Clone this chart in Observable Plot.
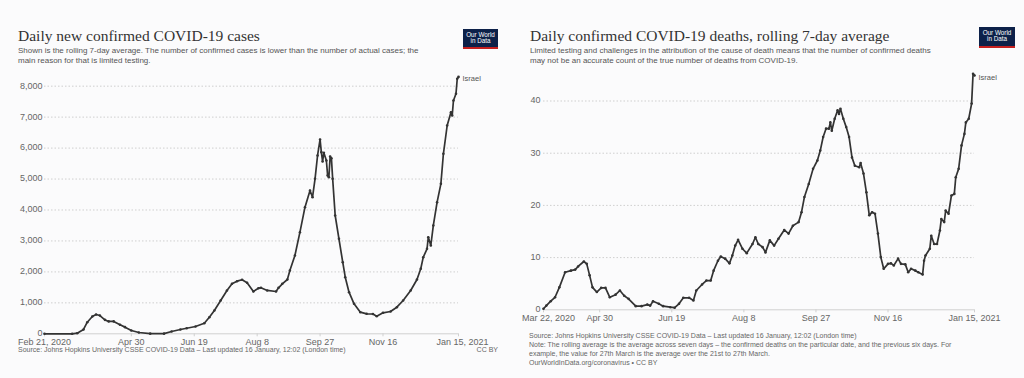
<!DOCTYPE html>
<html><head><meta charset="utf-8">
<script src="https://cdn.jsdelivr.net/npm/d3@7"></script>
<script src="https://cdn.jsdelivr.net/npm/@observablehq/plot@0.6"></script>
<style>
body{margin:0;background:#fbfbfc;}
#wrap{position:relative;width:1024px;height:378px;overflow:hidden;font-family:"Liberation Sans",Arial,sans-serif;background:#fbfbfc;}
.panel{position:absolute;top:0;width:512px;height:378px;}
.panel svg{position:absolute;left:0;top:0;}
.title{position:absolute;font-family:"Liberation Serif","Times New Roman",serif;font-size:15.5px;color:#333;white-space:nowrap;line-height:16px;}
.sub{position:absolute;font-size:8px;color:#555;line-height:10.5px;white-space:nowrap;}
.logo{position:absolute;background:#0d2149;color:#fff;font-size:6.3px;line-height:6.8px;text-align:center;border-bottom:2px solid #c5201f;box-sizing:border-box;padding-top:2.5px;}
.foot{position:absolute;font-size:7px;color:#666;line-height:9px;white-space:nowrap;}
</style></head>
<body>
<div id="wrap">
  <div class="panel" id="left" style="left:0">
    <div class="title" style="left:18px;top:28px">Daily new confirmed COVID-19 cases</div>
    <div class="sub" style="left:18px;top:45.5px">Shown is the rolling 7-day average. The number of confirmed cases is lower than the number of actual cases; the<br>main reason for that is limited testing.</div>
    <div class="logo" style="left:463px;top:29px;width:35px;height:20px">Our World<br>in Data</div>
    <div class="foot" style="left:18px;top:345px">Source: Johns Hopkins University CSSE COVID-19 Data – Last updated 16 January, 12:02 (London time)</div>
    <div class="foot" style="right:14px;top:345px">CC BY</div>
  </div>
  <div class="panel" id="right" style="left:512px">
    <div class="title" style="left:18px;top:28px">Daily confirmed COVID-19 deaths, rolling 7-day average</div>
    <div class="sub" style="left:18px;top:45.5px">Limited testing and challenges in the attribution of the cause of death means that the number of confirmed deaths<br>may not be an accurate count of the true number of deaths from COVID-19.</div>
    <div class="logo" style="left:467px;top:27px;width:36px;height:21px">Our World<br>in Data</div>
    <div class="foot" style="left:17px;top:330.5px">Source: Johns Hopkins University CSSE COVID-19 Data – Last updated 16 January, 12:02 (London time)<br>Note: The rolling average is the average across seven days – the confirmed deaths on the particular date, and the previous six days. For<br>example, the value for 27th March is the average over the 21st to 27th March.<br>OurWorldInData.org/coronavirus • CC BY</div>
  </div>
</div>
<script>
const seriesName = "Israel";

const caseDates = ["2020-02-21","2020-03-14","2020-03-18","2020-03-23","2020-03-26","2020-03-30","2020-04-02","2020-04-05","2020-04-09","2020-04-12","2020-04-16","2020-04-21","2020-04-25","2020-04-30","2020-05-06","2020-05-15","2020-05-26","2020-06-01","2020-06-08","2020-06-13","2020-06-20","2020-06-27","2020-07-01","2020-07-05","2020-07-10","2020-07-15","2020-07-19","2020-07-23","2020-07-27","2020-07-31","2020-08-05","2020-08-09","2020-08-11","2020-08-16","2020-08-23","2020-08-25","2020-08-28","2020-09-01","2020-09-03","2020-09-07","2020-09-11","2020-09-15","2020-09-19","2020-09-21","2020-09-23","2020-09-25","2020-09-27","2020-09-28","2020-09-29","2020-09-30","2020-10-02","2020-10-03","2020-10-04","2020-10-05","2020-10-06","2020-10-07","2020-10-09","2020-10-12","2020-10-15","2020-10-17","2020-10-20","2020-10-24","2020-10-29","2020-11-03","2020-11-08","2020-11-11","2020-11-16","2020-11-22","2020-11-27","2020-12-02","2020-12-08","2020-12-13","2020-12-16","2020-12-18","2020-12-21","2020-12-22","2020-12-24","2020-12-26","2020-12-29","2021-01-01","2021-01-03","2021-01-06","2021-01-09","2021-01-10","2021-01-11","2021-01-13","2021-01-14","2021-01-15"];
const caseValues = [0,0,20,140,375,560,623,590,450,400,400,290,215,107,42,5,5,75,140,180,235,343,537,753,1076,1400,1615,1700,1745,1650,1367,1473,1486,1400,1367,1486,1615,1754,2045,2530,3283,4090,4630,4414,5008,5761,6278,5868,5567,5848,5600,5115,5060,5729,5674,5008,3822,3070,2314,1829,1344,969,698,646,640,569,678,720,860,1076,1399,1754,2100,2475,2746,3121,2853,3500,4252,4846,5816,6730,7160,7053,7538,7754,8239,8300];

const deathDates = ["2020-03-22","2020-03-24","2020-03-27","2020-03-30","2020-04-02","2020-04-06","2020-04-10","2020-04-13","2020-04-15","2020-04-19","2020-04-21","2020-04-23","2020-04-25","2020-04-28","2020-05-01","2020-05-04","2020-05-07","2020-05-11","2020-05-14","2020-05-17","2020-05-20","2020-05-25","2020-05-29","2020-06-02","2020-06-04","2020-06-06","2020-06-10","2020-06-13","2020-06-18","2020-06-21","2020-06-24","2020-06-27","2020-07-01","2020-07-04","2020-07-06","2020-07-10","2020-07-13","2020-07-16","2020-07-18","2020-07-21","2020-07-23","2020-07-26","2020-07-29","2020-07-31","2020-08-02","2020-08-04","2020-08-07","2020-08-10","2020-08-14","2020-08-16","2020-08-18","2020-08-21","2020-08-23","2020-08-26","2020-08-29","2020-09-01","2020-09-05","2020-09-08","2020-09-11","2020-09-15","2020-09-17","2020-09-19","2020-09-22","2020-09-25","2020-09-28","2020-09-30","2020-10-02","2020-10-04","2020-10-06","2020-10-07","2020-10-08","2020-10-10","2020-10-12","2020-10-13","2020-10-14","2020-10-16","2020-10-18","2020-10-20","2020-10-22","2020-10-24","2020-10-27","2020-10-28","2020-10-30","2020-11-01","2020-11-03","2020-11-05","2020-11-07","2020-11-09","2020-11-11","2020-11-13","2020-11-16","2020-11-18","2020-11-20","2020-11-23","2020-11-25","2020-11-28","2020-11-30","2020-12-02","2020-12-05","2020-12-07","2020-12-10","2020-12-11","2020-12-12","2020-12-15","2020-12-16","2020-12-18","2020-12-20","2020-12-22","2020-12-23","2020-12-25","2020-12-26","2020-12-28","2020-12-30","2021-01-01","2021-01-02","2021-01-04","2021-01-06","2021-01-08","2021-01-09","2021-01-11","2021-01-13","2021-01-14","2021-01-15"];
const deathValues = [0.2,0.8,1.65,2.4,4.3,7.2,7.5,7.7,8.3,9.25,8.8,6.6,4.3,3.4,4.2,4.2,2.4,2.9,3.7,2.7,2.1,0.7,0.7,1.0,0.8,1.65,1.15,0.7,0.5,0.4,1.15,2.3,2.3,1.8,3.7,4.85,5.6,5.6,7.5,9.4,10.2,9.8,8.9,10.4,12.3,13.4,11.7,10.85,12.6,13.9,12.6,12.0,11.0,13.3,12.3,13.6,15.3,14.6,16.1,16.8,18.7,21.6,24.1,27.0,28.6,30.5,33.1,34.7,34.7,35.9,34.3,36.6,38.2,37.5,38.5,36.6,35.0,33.1,29.2,27.6,27.3,28.1,26.1,22.5,18.1,18.7,18.4,14.6,10.1,7.85,8.8,8.9,8.5,9.8,8.8,8.7,7.2,7.85,7.5,7.2,6.75,9.4,10.4,11.7,14.2,12.6,12.6,15.2,17.4,16.8,19.0,18.4,21.9,22.2,25.4,27.0,31.5,33.7,35.9,36.6,39.5,45.2,44.9];

const caseTickDates = ["2020-02-21","2020-04-30","2020-06-19","2020-08-08","2020-09-27","2020-11-16","2021-01-15"];
const caseTickLabels = ["Feb 21, 2020","Apr 30","Jun 19","Aug 8","Sep 27","Nov 16","Jan 15, 2021"];
const deathTickDates = ["2020-03-22","2020-04-30","2020-06-19","2020-08-08","2020-09-27","2020-11-16","2021-01-15"];
const deathTickLabels = ["Mar 22, 2020","Apr 30","Jun 19","Aug 8","Sep 27","Nov 16","Jan 15, 2021"];
const caseYTicks = [0,1000,2000,3000,4000,5000,6000,7000,8000];
const deathYTicks = [0,10,20,30,40];

const FONT = '"Liberation Sans", Arial, sans-serif';

function chart(o) {
  const data = o.dates.map((d, i) => ({date: new Date(d), value: o.values[i]}));
  const ticks = o.tickDates.map((d, i) => ({date: new Date(d), label: o.tickLabels[i]}));
  const last = data[data.length - 1];
  const labelOpts = (dx) => ({x: "date", text: "label", frameAnchor: "bottom", dy: o.labelDy, dx, fill: "#666", fontSize: 9});
  return Plot.plot({
    width: 512, height: 378,
    marginLeft: o.ml, marginRight: o.mr, marginTop: o.mt, marginBottom: o.mb,
    style: {background: "transparent", fontFamily: FONT, fontSize: "9px", color: "#666", overflow: "visible"},
    x: {type: "utc", label: null, domain: [new Date(o.tickDates[0]), new Date(o.tickDates[o.tickDates.length - 1])]},
    y: {label: null, domain: [0, o.yMax]},
    marks: [
      Plot.gridY(o.yTicks.slice(1), {stroke: "#cfcfcf", strokeOpacity: 1, strokeDasharray: "1.5,2"}),
      Plot.axisY(o.yTicks, {label: null, tickSize: 0, tickPadding: o.pad, tickFormat: d3.format(","), fill: "#666", fontSize: 9, dy: -0.5}),
      Plot.ruleY([0], {stroke: "#d0d0d0"}),
      Plot.axisX(ticks.map(t => t.date), {label: null, tickSize: 3, stroke: "#d0d0d0", tickFormat: () => ""}),
      Plot.text(ticks.slice(0, 1), labelOpts(o.firstDx)),
      Plot.text(ticks.slice(1, -1), labelOpts(0)),
      Plot.text(ticks.slice(-1), labelOpts(o.lastDx)),
      Plot.line(data, {x: "date", y: "value", stroke: "#333", strokeWidth: 1.7}),
      Plot.dot(data, {x: "date", y: "value", r: 1.3, fill: "#333"}),
      Plot.text([last], {x: "date", y: "value", text: () => seriesName, textAnchor: "start", dx: 4, dy: 2, fill: "#555", fontSize: 7.5})
    ]
  });
}

document.getElementById("left").appendChild(chart({
  dates: caseDates, values: caseValues, tickDates: caseTickDates, tickLabels: caseTickLabels,
  yTicks: caseYTicks, yMax: 8400, ml: 44, mr: 54, mt: 73.3, mb: 44.7, pad: 2,
  labelDy: 11, firstDx: 0, lastDx: 4
}));
document.getElementById("right").appendChild(chart({
  dates: deathDates, values: deathValues, tickDates: deathTickDates, tickLabels: deathTickLabels,
  yTicks: deathYTicks, yMax: 45.5, ml: 31, mr: 50, mt: 71.8, mb: 68.7, pad: 3,
  labelDy: 11, firstDx: 5, lastDx: 0
}));
</script>
</body></html>
